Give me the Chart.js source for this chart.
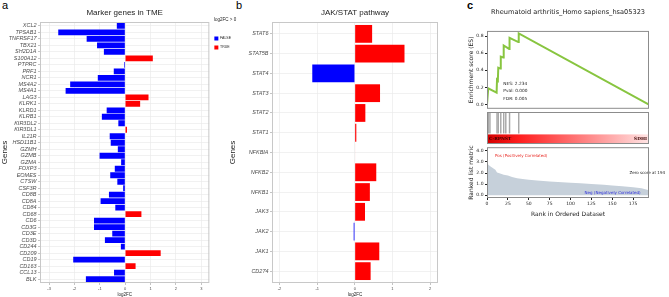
<!DOCTYPE html>
<html>
<head>
<meta charset="utf-8">
<script src="https://cdn.jsdelivr.net/npm/chart.js@4.4.1/dist/chart.umd.min.js"></script>
<style>
  body { margin: 0; background: #fff; width: 669px; height: 297px; position: relative; overflow: hidden; }
  canvas { position: absolute; }
  .tag { position: absolute; font-family: "Liberation Sans", Arial, sans-serif; color: #000; line-height: 1; }
</style>
</head>
<body>
<div class="tag" style="left:2px;top:0px;font-size:11px">a</div>
<div class="tag" style="left:236px;top:0px;font-size:11px">b</div>
<div class="tag" style="left:467px;top:0px;font-size:11px;font-weight:bold">c</div>

<canvas id="chart-a" style="left:0;top:0" width="241" height="297"></canvas>
<canvas id="chart-b" style="left:228px;top:0" width="212" height="297"></canvas>
<canvas id="chart-es" style="left:440px;top:0" width="229" height="113"></canvas>
<canvas id="chart-hits" style="left:440px;top:112px" width="229" height="32"></canvas>
<canvas id="chart-rank" style="left:440px;top:143px" width="229" height="75"></canvas>

<script>
// ---------- panel a : marker genes ----------
const markerGenes = ["XCL2", "TPSAB1", "TNFRSF17", "TBX21", "SH2D1A", "S100A12", "PTPRC", "PRF1",
  "NCR1", "MS4A2", "MS4A1", "LAG3", "KLRK1", "KLRD1", "KLRB1", "KIR3DL2", "KIR3DL1", "IL21R",
  "HSD11B1", "GZMH", "GZMB", "GZMA", "FOXP3", "EOMES", "CTSW", "CSF3R", "CD8B", "CD8A", "CD84",
  "CD68", "CD6", "CD3G", "CD3E", "CD3D", "CD244", "CD209", "CD19", "CD163", "CCL13", "BLK"];
const markerFC = [-0.33, -2.64, -1.52, -1.11, -0.84, 1.09, -0.04, -0.45,
  -1.08, -2.17, -2.35, 0.92, 0.59, -0.73, -0.92, -0.27, 0.07, -0.61,
  -0.57, -0.29, -1.01, -0.16, -0.41, -0.59, -0.31, -0.08, -0.64, -0.97, -0.39,
  0.64, -1.23, -1.23, -0.51, -0.80, -0.17, 1.40, -2.05, 0.41, -0.44, -1.55];

// ---------- panel b : JAK/STAT ----------
const jakGenes = ["STAT6", "STAT5B", "STAT4", "STAT3", "STAT2", "STAT1", "NFKBIA",
  "NFKB2", "NFKB1", "JAK3", "JAK2", "JAK1", "CD274"];
const jakFC = [0.46, 1.32, -1.13, 0.67, 0.28, 0.04, 0.01, 0.57, 0.40, 0.27, -0.03, 0.65, 0.42];

// ---------- panel c : GSEA ----------
const esRank = [0, 1.5, 11.5, 12, 13, 13.5, 16, 16.5, 19.5, 20, 26.5, 27, 37.5, 38, 194];
const esScore = [0, 0.19, 0.14, 0.29, 0.28, 0.43, 0.42, 0.56, 0.55, 0.69, 0.65, 0.78, 0.73, 0.83, 0];
const hitRanks = [1.5, 3.5, 12, 13.5, 16.5, 20, 22.5, 27, 38];
const metricRank = [0, 1, 3, 6, 10, 12, 14, 20, 25, 30, 36, 45, 50, 60, 75, 90, 100, 112, 125, 140, 150, 162, 175, 185, 194];
const metricValue = [3.5, 2.8, 2.65, 2.5, 2.3, 2.05, 2.0, 1.85, 1.78, 1.65, 1.52, 1.45, 1.4, 1.33, 1.24, 1.17, 1.12, 1.07, 1.02, 0.95, 0.88, 0.8, 0.72, 0.62, 0.45];
const rankTicks = [0, 25, 50, 75, 100, 125, 150, 175];

const SANS = '"Liberation Sans", Arial, sans-serif';
const DEJAVU = '"DejaVu Sans", sans-serif';

// box round the plot area
const frame = {
  id: 'frame',
  afterDraw(chart, args, opts) {
    const a = chart.chartArea, ctx = chart.ctx;
    ctx.save();
    ctx.strokeStyle = opts.color;
    ctx.lineWidth = 1;
    ctx.strokeRect(a.left + 0.5, a.top + 0.5, a.right - a.left - 1, a.bottom - a.top - 1);
    ctx.restore();
  }
};

// free text placed in data units
const notes = {
  id: 'notes',
  afterDatasetsDraw(chart, args, opts) {
    const ctx = chart.ctx, x = chart.scales.x, y = chart.scales.y;
    ctx.save();
    (opts.items || []).forEach(n => {
      ctx.font = n.font;
      ctx.fillStyle = n.color;
      ctx.textAlign = n.align || 'left';
      ctx.textBaseline = 'middle';
      ctx.fillText(n.text, x.getPixelForValue(n.x), y.getPixelForValue(n.y));
    });
    ctx.restore();
  }
};

function barSets(fc) {
  const neg = [], pos = [];
  fc.forEach((v, i) => (v > 0 ? pos : neg).push({ x: v, y: i }));
  return [
    { label: 'FALSE', data: neg, backgroundColor: '#0000ff', borderWidth: 0 },
    { label: 'TRUE', data: pos, backgroundColor: '#ff0000', borderWidth: 0 }
  ];
}

function geneChart(id, title, genes, fc, xMin, xMax, yWidth, padRight, showLegend) {
  return new Chart(document.getElementById(id), {
    type: 'bar',
    data: { datasets: barSets(fc) },
    options: {
      responsive: false,
      animation: false,
      indexAxis: 'y',
      layout: { padding: { left: 0, right: padRight, top: 0, bottom: 0 } },
      datasets: { bar: { barPercentage: 0.9, categoryPercentage: 1 } },
      scales: {
        x: {
          type: 'linear', min: xMin, max: xMax, stacked: true,
          ticks: { stepSize: 1, includeBounds: false, font: { size: 4, family: SANS }, color: '#4d4d4d', padding: 1 },
          grid: { color: '#ebebeb', lineWidth: 0.7, tickLength: 2, tickColor: '#aaa' },
          border: { display: false },
          title: { display: true, text: 'log2FC', font: { size: 4.5, family: SANS }, color: '#222', padding: { top: 1, bottom: 0 } },
          afterFit: s => { s.height = 14; }
        },
        y: {
          type: 'linear', min: -0.6, max: genes.length - 0.4, reverse: true, stacked: true, offset: false,
          ticks: {
            stepSize: 1, includeBounds: false, autoSkip: false,
            callback: v => genes[v],
            font: { size: 5.5, style: 'italic', family: SANS }, color: '#4d4d4d', padding: 1.5
          },
          grid: { offset: false, color: '#ebebeb', lineWidth: 0.7, tickLength: 2, tickColor: '#aaa' },
          border: { display: false },
          title: { display: true, text: 'Genes', font: { size: 8, family: SANS }, color: '#222', padding: 0 },
          afterFit: s => { s.width = yWidth; }
        }
      },
      plugins: {
        title: {
          display: true, text: title, fullSize: false,
          font: { size: 8, weight: 'normal', family: SANS }, color: '#222',
          padding: { top: 7.5, bottom: 4.9 }
        },
        legend: {
          display: showLegend, position: 'right', align: 'start',
          title: { display: true, text: 'log2FC > 0', font: { size: 4.5, family: SANS }, color: '#222', padding: { top: 18, bottom: 8 } },
          labels: { boxWidth: 4, boxHeight: 4, font: { size: 3.5, family: SANS }, color: '#222', padding: 5 }
        },
        tooltip: { enabled: false },
        frame: { color: '#c8c8c8' }
      }
    },
    plugins: [frame]
  });
}

geneChart('chart-a', 'Marker genes in TME', markerGenes, markerFC, -3.36, 3.32, 40, 0, true);
geneChart('chart-b', 'JAK/STAT pathway', jakGenes, jakFC, -2.2, 2.21, 44, 2, false);

// ---- enrichment score ----
new Chart(document.getElementById('chart-es'), {
  type: 'line',
  data: {
    datasets: [{
      data: esRank.map((r, i) => ({ x: r, y: esScore[i] })),
      borderColor: '#88c540', borderWidth: 2, pointRadius: 0, tension: 0
    }]
  },
  options: {
    responsive: false,
    animation: false,
    layout: { padding: { left: 24, right: 20, top: 0, bottom: 0 } },
    scales: {
      x: { type: 'linear', min: 0, max: 194, display: false },
      y: {
        min: -0.05, max: 0.86,
        ticks: { stepSize: 0.2, includeBounds: false, callback: v => v.toFixed(1), font: { size: 4.5, family: DEJAVU }, color: '#222', padding: 1.5 },
        grid: { drawOnChartArea: false, tickLength: 2, tickColor: '#222' },
        border: { display: false },
        title: { display: true, text: 'Enrichment score (ES)', font: { size: 6, family: DEJAVU }, color: '#222', padding: { top: 4, bottom: 0 } },
        afterFit: s => { s.width = 23; }
      }
    },
    plugins: {
      legend: { display: false },
      tooltip: { enabled: false },
      title: {
        display: true, text: 'Rheumatoid arthritis_Homo sapiens_hsa05323', fullSize: false,
        font: { size: 6.6, weight: 'normal', family: DEJAVU }, color: '#222',
        padding: { top: 8, bottom: 15 }
      },
      frame: { color: '#8c8c8c' },
      notes: {
        items: [
          { text: 'NES: 2.234', x: 19.6, y: 0.24, font: '4.3px ' + DEJAVU, color: '#222' },
          { text: 'Pval: 0.000', x: 19.6, y: 0.155, font: '4.3px ' + DEJAVU, color: '#222' },
          { text: 'FDR: 0.005', x: 19.6, y: 0.063, font: '4.3px ' + DEJAVU, color: '#222' }
        ]
      }
    }
  },
  plugins: [frame, notes]
});

// ---- hits + ranking colour bar ----
const rankBar = {
  id: 'rankBar',
  beforeDatasetsDraw(chart) {
    const ctx = chart.ctx, x = chart.scales.x, y = chart.scales.y;
    const x0 = x.getPixelForValue(0), x1 = x.getPixelForValue(194);
    const y0 = y.getPixelForValue(0.3), y1 = y.getPixelForValue(0);
    const g = ctx.createLinearGradient(x0, 0, x1, 0);
    g.addColorStop(0, '#d40000');
    g.addColorStop(0.2, '#ff1f1f');
    g.addColorStop(1, '#ffe4e4');
    ctx.save();
    ctx.fillStyle = g;
    ctx.fillRect(x0, y0, x1 - x0, y1 - y0);
    ctx.font = 'bold 4.3px "DejaVu Serif", serif';
    ctx.fillStyle = '#3a0000';
    ctx.textBaseline = 'middle';
    ctx.textAlign = 'left';
    ctx.fillText('C-RPNST', x0 + 2, (y0 + y1) / 2);
    ctx.textAlign = 'right';
    ctx.fillText('SDHI', x1 - 2, (y0 + y1) / 2);
    ctx.restore();
  }
};

new Chart(document.getElementById('chart-hits'), {
  type: 'bar',
  data: {
    datasets: [{
      data: hitRanks.map(r => ({ x: r, y: [0.34, 1] })),
      backgroundColor: '#a8a8a8', barThickness: 0.8, borderWidth: 0
    }]
  },
  options: {
    responsive: false,
    animation: false,
    layout: { padding: { left: 47, right: 20, top: 0, bottom: 0 } },
    scales: {
      x: { type: 'linear', min: 0, max: 194, display: false, offset: false, grid: { offset: false } },
      y: { min: 0, max: 1, display: false }
    },
    plugins: { legend: { display: false }, tooltip: { enabled: false }, frame: { color: '#8c8c8c' } }
  },
  plugins: [rankBar, frame]
});

// ---- ranked list metric ----
new Chart(document.getElementById('chart-rank'), {
  type: 'line',
  data: {
    datasets: [{
      data: metricRank.map((r, i) => ({ x: r, y: metricValue[i] })),
      fill: 'origin', backgroundColor: '#c6d0da', borderWidth: 0, pointRadius: 0, tension: 0
    }]
  },
  options: {
    responsive: false,
    animation: false,
    layout: { padding: { left: 24, right: 20, top: 0, bottom: 0 } },
    scales: {
      x: {
        type: 'linear', min: 0, max: 194,
        afterBuildTicks: s => { s.ticks = rankTicks.map(v => ({ value: v })); },
        ticks: { font: { size: 4.5, family: DEJAVU }, color: '#222', padding: 1 },
        grid: { drawOnChartArea: false, tickLength: 2, tickColor: '#222' },
        border: { display: false },
        title: { display: true, text: 'Rank in Ordered Dataset', font: { size: 6, family: DEJAVU }, color: '#222', padding: { top: 1, bottom: 0 } },
        afterFit: s => { s.height = 20; }
      },
      y: {
        min: -0.25, max: 4.33,
        ticks: { stepSize: 1, includeBounds: false, callback: v => v.toFixed(1), font: { size: 4.5, family: DEJAVU }, color: '#222', padding: 1.5 },
        grid: { drawOnChartArea: false, tickLength: 2, tickColor: '#222' },
        border: { display: false },
        title: { display: true, text: 'Ranked list metric', font: { size: 6, family: DEJAVU }, color: '#222', padding: { top: 4, bottom: 0 } },
        afterFit: s => { s.width = 23; }
      }
    },
    plugins: {
      legend: { display: false },
      tooltip: { enabled: false },
      frame: { color: '#8c8c8c' },
      notes: {
        items: [
          { text: 'Pos (Positively Correlated)', x: 9.6, y: 3.54, font: '4px ' + DEJAVU, color: '#e8251f' },
          { text: 'Zero score at 194', x: 170.7, y: 2.0, font: '4px ' + DEJAVU, color: '#222' },
          { text: 'Neg (Negatively Correlated)', x: 184, y: 0.23, font: '4px ' + DEJAVU, color: '#2b2bdc', align: 'right' }
        ]
      }
    }
  },
  plugins: [frame, notes]
});
</script>
</body>
</html>
